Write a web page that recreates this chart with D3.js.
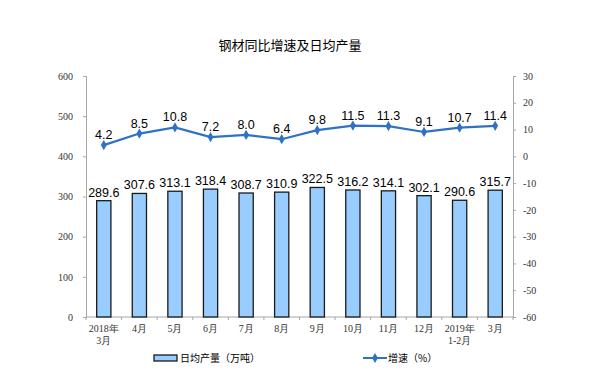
<!DOCTYPE html>
<html><head><meta charset="utf-8">
<script src="https://cdn.jsdelivr.net/npm/d3@7"></script>
<style>body{margin:0;background:#fff}</style>
</head><body>
<svg id="c" width="598" height="389"></svg>
<script>
const categories = ["2018年\n3月","4月","5月","6月","7月","8月","9月","10月","11月","12月","2019年\n1-2月","3月"];
const output = [289.6,307.6,313.1,318.4,308.7,310.9,322.5,316.2,314.1,302.1,290.6,315.7];
const growth = [4.2,8.5,10.8,7.2,8.0,6.4,9.8,11.5,11.3,9.1,10.7,11.4];
const leftTicks = [0,100,200,300,400,500,600];
const rightTicks = [-60,-50,-40,-30,-20,-10,0,10,20,30];

const svg = d3.select("#c");
const L = 86, R = 513, T = 76, B = 317;
const x = d3.scaleBand().domain(d3.range(categories.length)).range([L,R]).paddingInner(0.6).paddingOuter(0.3);
const xc = d3.scaleBand().domain(d3.range(categories.length)).range([L,R]);
const yL = d3.scaleLinear().domain([0,600]).range([B,T]);
const yR = d3.scaleLinear().domain([-60,30]).range([B,T]);
const axisColor = "#a6a6a6";
const tickFont = "'Liberation Serif','DejaVu Serif',serif";
const labFont = "'Liberation Sans',Arial,sans-serif";

svg.append("text").attr("x",290).attr("y",50).attr("text-anchor","middle")
  .attr("font-family","'Noto Sans CJK SC',sans-serif").attr("font-size",13).attr("fill","#000")
  .text("钢材同比增速及日均产量");

// left axis
const gl = svg.append("g").attr("transform",`translate(${L},0)`)
  .call(d3.axisLeft(yL).tickValues(leftTicks).tickFormat(d=>String(d)).tickSize(3).tickPadding(10));
gl.select(".domain").attr("stroke",axisColor);
gl.selectAll(".tick line").attr("stroke",axisColor);
gl.selectAll("text").attr("font-family",tickFont).attr("font-size",10).attr("fill","#333");

// right axis
const gr = svg.append("g").attr("transform",`translate(${R},0)`)
  .call(d3.axisRight(yR).tickValues(rightTicks).tickFormat(d=>String(d)).tickSize(3).tickPadding(7));
gr.select(".domain").attr("stroke",axisColor);
gr.selectAll(".tick line").attr("stroke",axisColor);
gr.selectAll("text").attr("font-family",tickFont).attr("font-size",10).attr("fill","#333");

// bottom axis
svg.append("line").attr("x1",L).attr("x2",R).attr("y1",B).attr("y2",B).attr("stroke",axisColor);
svg.selectAll(".bt").data(d3.range(categories.length+1)).enter().append("line")
  .attr("x1",i=>L+i*xc.step()).attr("x2",i=>L+i*xc.step()).attr("y1",B).attr("y2",B+3).attr("stroke",axisColor);
const xl = svg.selectAll(".xl").data(categories).enter().append("text")
  .attr("text-anchor","middle").attr("font-family",tickFont).attr("font-size",10).attr("fill","#333")
  .attr("transform",(d,i)=>`translate(${xc(i)+xc.bandwidth()/2},${B+15})`);
xl.each(function(d){
  const t = d3.select(this);
  d.split("\n").forEach((s,k)=>t.append("tspan").attr("x",0).attr("dy",k?12:0).text(s));
});

// bars
svg.selectAll(".bar").data(output).enter().append("rect")
  .attr("x",(d,i)=>x(i)).attr("width",x.bandwidth())
  .attr("y",d=>yL(d)).attr("height",d=>B-yL(d))
  .attr("fill","#99ccff").attr("stroke","#1a1a1a").attr("stroke-width",1.3);
svg.selectAll(".bl").data(output).enter().append("text")
  .attr("x",(d,i)=>xc(i)+xc.bandwidth()/2).attr("y",d=>yL(d)-4)
  .attr("text-anchor","middle").attr("font-family",labFont).attr("font-size",12.5).attr("fill","#000")
  .text(d=>d.toFixed(1));

// line
const lineColor = "#2f72c4";
const line = d3.line().x((d,i)=>xc(i)+xc.bandwidth()/2).y(d=>yR(d));
svg.append("path").datum(growth).attr("d",line).attr("fill","none").attr("stroke",lineColor).attr("stroke-width",2.2);
const diamond = d3.symbol().type(d3.symbolDiamond).size(30);
svg.selectAll(".pt").data(growth).enter().append("path")
  .attr("d",diamond).attr("fill",lineColor)
  .attr("transform",(d,i)=>`translate(${xc(i)+xc.bandwidth()/2},${yR(d)})`);
svg.selectAll(".ll").data(growth).enter().append("text")
  .attr("x",(d,i)=>xc(i)+xc.bandwidth()/2).attr("y",d=>yR(d)-6)
  .attr("text-anchor","middle").attr("font-family",labFont).attr("font-size",12.5).attr("fill","#000")
  .text(d=>d.toFixed(1));

// legend
svg.append("rect").attr("x",154).attr("y",355).attr("width",23).attr("height",6)
  .attr("fill","#99ccff").attr("stroke","#1a1a1a").attr("stroke-width",1.3);
svg.append("text").attr("x",180).attr("y",362).attr("font-family","'Noto Sans CJK SC',sans-serif").attr("font-size",10).attr("fill","#000").text("日均产量（万吨）");
svg.append("line").attr("x1",363).attr("x2",387).attr("y1",358).attr("y2",358).attr("stroke",lineColor).attr("stroke-width",2);
svg.append("path").attr("d",diamond).attr("fill",lineColor).attr("transform","translate(375,358)");
svg.append("text").attr("x",388).attr("y",362).attr("font-family","'Noto Sans CJK SC',sans-serif").attr("font-size",10).attr("fill","#000").text("增速（%）");
</script>
</body></html>
